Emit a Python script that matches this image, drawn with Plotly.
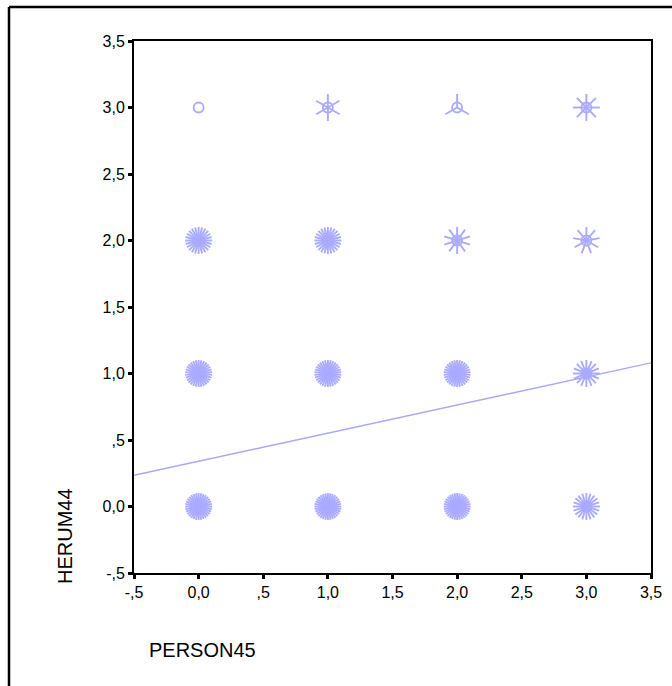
import numpy as np
import plotly.graph_objects as go

# ---- data ----
person45 = [0, 1, 2, 3, 0, 1, 2, 3, 0, 1, 2, 3, 0, 1, 2, 3]
herum44 = [3, 3, 3, 3, 2, 2, 2, 2, 1, 1, 1, 1, 0, 0, 0, 0]
counts = [1, 6, 3, 8, 24, 24, 10, 9, 30, 30, 30, 16, 32, 32, 32, 20]

fit_x = [-0.5, 3.5]
fit_y = [0.235, 1.08]

tick_vals = [-0.5, 0.0, 0.5, 1.0, 1.5, 2.0, 2.5, 3.0, 3.5]
tick_text = ["-,5", "0,0", ",5", "1,0", "1,5", "2,0", "2,5", "3,0", "3,5"]

# ---- layout geometry ----
W, H = 672, 686
ML, MR, MT, MB = 134, 21, 41, 113
PW, PH = W - ML - MR, H - MT - MB
XR = [-0.5, 3.5]
YR = [-0.5, 3.5]
px_x = PW / (XR[1] - XR[0])
px_y = PH / (YR[1] - YR[0])
PETAL = 13.5  # petal length in pixels

COL = "#aaaaff"

# petals for each sunflower
px, py = [], []
for x, y, n in zip(person45, herum44, counts):
    if n < 2:
        continue
    for k in range(n):
        a = np.pi / 2 + 2 * np.pi * k / n
        px += [x, x + PETAL * np.cos(a) / px_x, None]
        py += [y, y + PETAL * np.sin(a) / px_y, None]

fig = go.Figure()
fig.add_trace(go.Scatter(x=fit_x, y=fit_y, mode="lines",
                         line=dict(color="#a8a8f4", width=1.4),
                         hoverinfo="skip", showlegend=False))
fig.add_trace(go.Scatter(x=px, y=py, mode="lines",
                         line=dict(color=COL, width=1.9),
                         hoverinfo="skip", showlegend=False))
fig.add_trace(go.Scatter(x=person45, y=herum44, mode="markers",
                         marker=dict(symbol="circle-open", size=10,
                                     color=COL, line=dict(width=1.8, color=COL)),
                         text=[str(c) for c in counts], showlegend=False))

axis_common = dict(showgrid=False, zeroline=False, showline=True, mirror=True,
                   linecolor="black", linewidth=2, ticks="outside", ticklen=4,
                   tickwidth=3, tickcolor="black",
                   tickfont=dict(family="Liberation Sans, Arial", size=16, color="black"),
                   tickvals=tick_vals, ticktext=tick_text)

fig.update_layout(
    width=W, height=H,
    margin=dict(l=ML, r=MR, t=MT, b=MB, autoexpand=False),
    paper_bgcolor="white", plot_bgcolor="white",
    xaxis=dict(range=XR, **axis_common),
    yaxis=dict(range=YR, **axis_common),
    showlegend=False,
    annotations=[
        dict(text="PERSON45", xref="paper", yref="paper",
             x=(147 - ML) / PW, y=-(650 - MT - PH) / PH,
             xanchor="left", yanchor="middle", showarrow=False,
             font=dict(family="Liberation Sans, Arial", size=20, color="black")),
        dict(text="HERUM44", xref="paper", yref="paper", textangle=-90,
             x=(65 - ML) / PW, y=(MT + PH - 536) / PH,
             xanchor="center", yanchor="middle", showarrow=False,
             font=dict(family="Liberation Sans, Arial", size=20, color="black")),
    ],
    shapes=[
        dict(type="line", xref="paper", yref="paper",
             x0=(9 - ML) / PW, x1=(9 - ML) / PW,
             y0=-(H + 20 - MT - PH) / PH, y1=1 + (MT - 7) / PH,
             line=dict(color="black", width=2.5)),
        dict(type="line", xref="paper", yref="paper",
             x0=(9 - ML) / PW, x1=1 + (MR + 20) / PW,
             y0=1 + (MT - 7) / PH, y1=1 + (MT - 7) / PH,
             line=dict(color="black", width=2.5)),
    ],
)

fig.write_html("out.html", config={"displayModeBar": False},
               post_script="document.body.style.margin='0px';document.body.style.overflow='hidden';")
